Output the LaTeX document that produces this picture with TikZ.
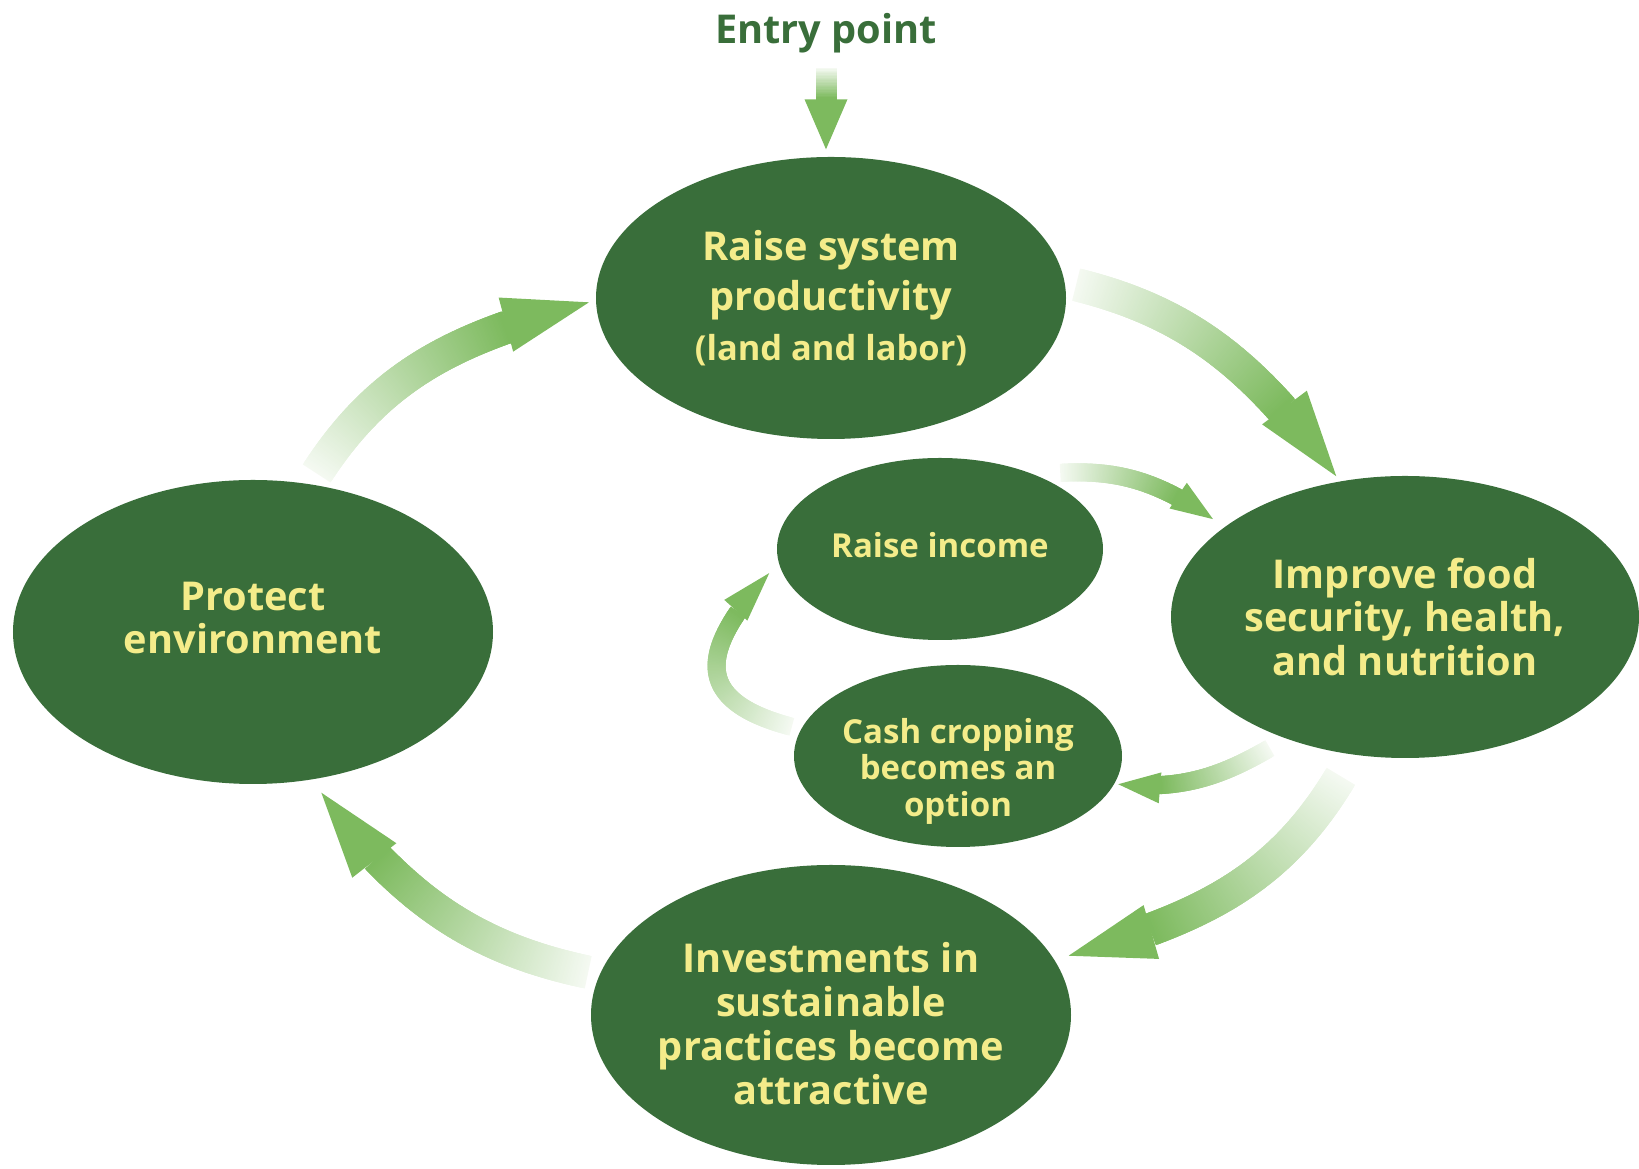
\documentclass[tikz,border=0pt]{standalone}
\usepackage{fontspec}
\setmainfont{Open Sans}
\usetikzlibrary{shapes.geometric,decorations.markings}

\definecolor{leafgreen}{RGB}{57,110,58}
\definecolor{wheat}{RGB}{244,236,138}
\definecolor{sprout}{RGB}{125,186,94}

\tikzset{
  blob/.style={ellipse, fill=leafgreen, inner sep=0pt},
  blobtext/.style={text=wheat, align=center, inner sep=0pt,
    font=\bfseries\fontsize{11.3}{12.5}\selectfont},
  smalltext/.style={blobtext, font=\bfseries\fontsize{9.4}{10.4}\selectfont},
  flow/.style n args={3}{postaction={decorate}, decoration={markings,
      mark=between positions 0 and -#2 step 0.4pt with {
        \pgfmathsetmacro\shadepct{min(100,8+92*\pgfkeysvalueof{/pgf/decoration/mark info/distance from start}/(\pgfdecoratedpathlength-#2))}
        \fill[sprout!\shadepct!white] (-0.5pt,-#1/2) rectangle (0.5pt,#1/2);},
      mark=at position 1 with {\fill[sprout] (0,0) -- (-#2,#3/2) -- (-#2,-#3/2) -- cycle;}}},
  bigflow/.style={flow={0.33cm}{0.86cm}{0.56cm}},
  smallflow/.style={flow={0.18cm}{0.42cm}{0.31cm}},
}

\begin{document}
\begin{tikzpicture}
  \useasboundingbox (0,0) rectangle (16.39,11.69);

  % the big cycle
  \node[blob, minimum width=4.70cm, minimum height=2.82cm] (raise) at (8.31,8.71) {};
  \node[blob, minimum width=4.68cm, minimum height=2.82cm] (food) at (14.05,5.52) {};
  \node[blob, minimum width=4.80cm, minimum height=3.00cm] (invest) at (8.31,1.54) {};
  \node[blob, minimum width=4.80cm, minimum height=3.04cm] (protect) at (2.53,5.37) {};

  % the inner loop
  \node[blob, minimum width=3.26cm, minimum height=1.82cm] (income) at (9.40,6.20) {};
  \node[blob, minimum width=3.28cm, minimum height=1.82cm] (cash) at (9.58,4.13) {};

  % texts
  \node[blobtext, font=\bfseries\fontsize{11.3}{14.3}\selectfont] (raise-t) at (raise)
    {Raise system\\productivity\\{\fontsize{9.8}{13.7}\selectfont(land and labor)}};
  \node[blobtext] (food-t) at (food) {Improve food\\security, health,\\and nutrition};
  \node[blobtext] (invest-t) at ([yshift=-0.09cm]invest) {Investments in\\sustainable\\practices become\\attractive};
  \node[blobtext] (protect-t) at ([yshift=0.14cm]protect) {Protect\\environment};
  \node[smalltext] (income-t) at ([yshift=0.04cm]income) {Raise income};
  \node[smalltext] (cash-t) at ([yshift=-0.15cm]cash) {Cash cropping\\becomes an\\option};

  \node[inner sep=0pt, text=leafgreen, font=\bfseries\fontsize{11.3}{13}\selectfont] (entry) at (8.26,11.36) {Entry point};

  % arrows
  \path[flow={0.21cm}{0.5cm}{0.43cm}] ([yshift=-0.16cm]entry.south) -- ([yshift=0.07cm]entry.south |- raise.north);
  \path[bigflow] ([shift={(3:0.12)}]raise.3) to[out=-14,in=127] ([shift={(116:0.05)}]food.116);
  \path[bigflow] ([shift={(248:0.25)}]food.248) to[out=239,in=16] ([shift={(14:0.14)}]invest.14);
  \path[bigflow] ([shift={(170:0.13)}]invest.170) to[out=168,in=308] ([shift={(293:0.14)}]protect.293);
  \path[bigflow] ([shift={(68:0.13)}]protect.68) to[out=57,in=195] ([shift={(181:0.06)}]raise.181);
  \path[smallflow] ([shift={(32:0.15)}]income.32) to[out=3,in=146] ([shift={(153:0.14)}]food.153);
  \path[smallflow] ([shift={(224:0.17)}]food.224) to[out=210,in=-5] ([shift={(350:0.03)}]cash.350);
  \path[flow={0.18cm}{0.5cm}{0.31cm}] ([shift={(170:0.11)}]cash.170) to[out=165,in=228,looseness=1.7] ([shift={(188:0.12)}]income.188);
\end{tikzpicture}
\end{document}
